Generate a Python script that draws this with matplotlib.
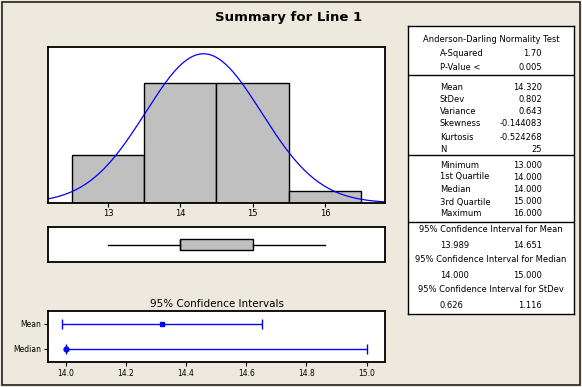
import matplotlib.pyplot as plt
import numpy as np
from matplotlib.patches import Rectangle

# data read from the Minitab summary
bin_centers = [13, 14, 15, 16]
counts = [4, 10, 10, 1]
hist_ticks = [13, 14, 15, 16]

mean, stdev, n = 14.320, 0.802, 25
q_min, q1, median, q3, q_max = 13.0, 14.0, 14.0, 15.0, 16.0

ci_names = ['Median', 'Mean']
ci_center = [14.0, 14.32]
ci_low = [14.0, 13.989]
ci_high = [15.0, 14.651]
ci_ticks = [14.0, 14.2, 14.4, 14.6, 14.8, 15.0]

ad_labels = ['A-Squared', 'P-Value <']
ad_values = ['1.70', '0.005']
desc_labels = ['Mean', 'StDev', 'Variance', 'Skewness', 'Kurtosis', 'N']
desc_values = ['14.320', '0.802', '0.643', '-0.144083', '-0.524268', '25']
quart_labels = ['Minimum', '1st Quartile', 'Median', '3rd Quartile', 'Maximum']
quart_values = ['13.000', '14.000', '14.000', '15.000', '16.000']
ci_headers = ['95% Confidence Interval for Mean',
              '95% Confidence Interval for Median',
              '95% Confidence Interval for StDev']
ci_rows = [('13.989', '14.651'), ('14.000', '15.000'), ('0.626', '1.116')]

BG = '#EDE9DE'
GRAY = '#C0C0C0'
BLUE = '#0000FF'
W, H = 582, 387

plt.rcParams['font.family'] = 'DejaVu Sans'
fig = plt.figure(figsize=(W / 100, H / 100), dpi=100, facecolor=BG)


def rect(x0, y0, x1, y1):
    # pixel box (top-left origin) -> figure fraction
    return [x0 / W, (H - y1) / H, (x1 - x0) / W, (y1 - y0) / H]


# outer frame
fig.patches.append(Rectangle((1.5 / W, 2 / H), 578 / W, 383 / H, transform=fig.transFigure,
                             fill=False, ec='#202020', lw=1.2))

fig.text(289 / W, 1 - 18 / H, 'Summary for Line 1', ha='center', va='center',
         fontsize=9.5, fontweight='bold')

# histogram with normal fit
ax = fig.add_axes(rect(48, 47, 385, 203))
ax.bar(bin_centers, counts, width=1.0, color=GRAY, edgecolor='black', lw=1)
xs = np.linspace(12.17, 16.83, 300)
ax.plot(xs, n * np.exp(-0.5 * ((xs - mean) / stdev) ** 2) / (stdev * np.sqrt(2 * np.pi)),
        color=BLUE, lw=0.9)
ax.set_xlim(12.17, 16.83)
ax.set_ylim(0, 13.0)
ax.set_xticks(hist_ticks)
ax.set_xticklabels([str(t) for t in hist_ticks])
ax.set_yticks([])
ax.tick_params(axis='x', length=3, width=0.8, labelsize=6, pad=1)

# boxplot
axb = fig.add_axes(rect(48, 227, 385, 262))
axb.bxp([dict(med=median, q1=q1, q3=q3, whislo=q_min, whishi=q_max, fliers=[])],
        vert=False, widths=0.34, showcaps=False, patch_artist=True,
        boxprops=dict(facecolor=GRAY, edgecolor='black', lw=1),
        whiskerprops=dict(color='black', lw=1),
        medianprops=dict(color='black', lw=1))
axb.set_xlim(12.17, 16.83)
axb.set_ylim(0.5, 1.5)
axb.set_xticks([])
axb.set_yticks([])

# confidence intervals
axc = fig.add_axes(rect(48, 311, 385, 362))
ypos = np.arange(len(ci_names))
err = [np.array(ci_center) - np.array(ci_low), np.array(ci_high) - np.array(ci_center)]
axc.errorbar(ci_center, ypos, xerr=err, fmt='none', ecolor=BLUE, elinewidth=1,
             capsize=3.5, capthick=1)
axc.plot(ci_center[1], ypos[1], 's', color=BLUE, ms=3.5)
axc.plot(ci_center[0], ypos[0], 'o', color=BLUE, ms=3.5)
axc.set_xlim(13.941, 15.061)
axc.set_ylim(-0.53, 1.51)
axc.set_xticks(ci_ticks)
axc.set_xticklabels([f'{t:.1f}' for t in ci_ticks])
axc.set_yticks(ypos)
axc.set_yticklabels(ci_names)
axc.tick_params(length=3, width=0.8, labelsize=5.5, pad=2)
axc.set_title('95% Confidence Intervals', fontsize=7.5, pad=3)

for a in (ax, axb, axc):
    for s in a.spines.values():
        s.set_linewidth(1.3)

# statistics table
axt = fig.add_axes(rect(408, 26, 574, 314))
axt.set_xlim(0, 166)
axt.set_ylim(288, 0)
axt.set_xticks([])
axt.set_yticks([])
for s in axt.spines.values():
    s.set_linewidth(1.0)
for yline in (49, 129, 196):
    axt.axhline(yline, color='black', lw=1.0)

fs = 6.0
axt.text(83, 14, 'Anderson-Darling Normality Test', ha='center', va='center', fontsize=fs)
rows = list(zip(ad_labels, ad_values, [28, 41]))
rows += list(zip(desc_labels, desc_values, [61, 73, 85, 98, 111, 123]))
rows += list(zip(quart_labels, quart_values, [139, 151, 164, 176, 188]))
for lab, val, y in rows:
    axt.text(32, y, lab, ha='left', va='center', fontsize=fs)
    axt.text(134, y, val, ha='right', va='center', fontsize=fs)
for head, (lo, hi), y in zip(ci_headers, ci_rows, [204, 234, 264]):
    axt.text(83, y, head, ha='center', va='center', fontsize=fs)
    axt.text(32, y + 16, lo, ha='left', va='center', fontsize=fs)
    axt.text(134, y + 16, hi, ha='right', va='center', fontsize=fs)

fig.savefig('out.png', dpi=100, facecolor=BG)
